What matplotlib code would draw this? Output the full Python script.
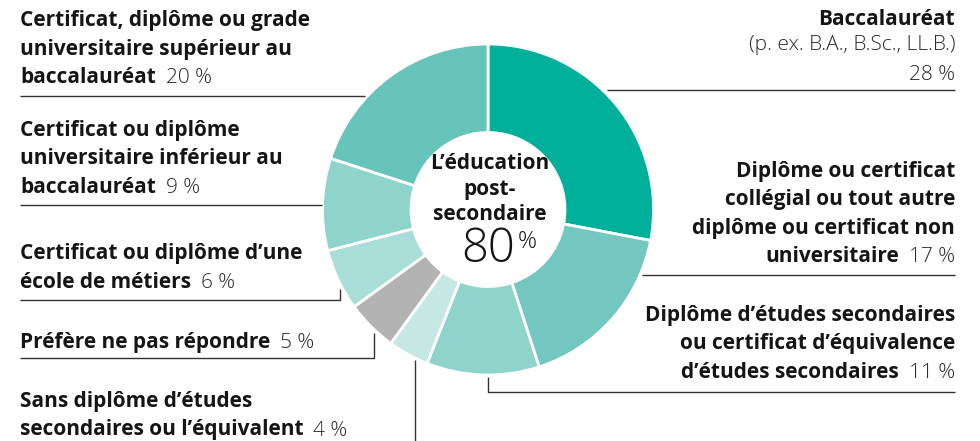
import matplotlib
matplotlib.use("Agg")
import matplotlib.pyplot as plt

plt.rcParams['font.family'] = ['Open Sans', 'DejaVu Sans']

# donnees (ordre horaire depuis le haut)
categories = ["Baccalauréat",
              "Diplôme ou certificat collégial",
              "Diplôme d'études secondaires",
              "Sans diplôme d'études secondaires",
              "Préfère ne pas répondre",
              "École de métiers",
              "Universitaire inférieur au baccalauréat",
              "Universitaire supérieur au baccalauréat"]
valeurs = [28, 17, 11, 4, 5, 6, 9, 20]
couleurs = ['#00b09b', '#74c7bf', '#8fd4cb', '#c5e8e3',
            '#b3b3b3', '#a9ddd7', '#8fd4cb', '#67c4b9']
total_post = 80

W, H = 980, 441
CX, CY, R, R_IN = 488, 209.5, 165.5, 77

def Y(y):
    return H - y

fig = plt.figure(figsize=(W / 100, H / 100), dpi=100)
ax = fig.add_axes([0, 0, 1, 1])

ax.pie(valeurs, colors=couleurs, startangle=90, counterclock=False,
       center=(CX, Y(CY)), radius=R, frame=True,
       wedgeprops=dict(width=R - R_IN, edgecolor='white', linewidth=2))
ax.set_xlim(0, W)
ax.set_ylim(0, H)
ax.set_aspect('equal')
ax.axis('off')

noir = '#151515'
gris = '#2a2a2a'
fs = 15
pas = 28.5

# blocs d'etiquettes : x, premiere ligne de base, alignement, lignes en gras, pourcentage
blocs = [
    (20, 26, 'left', ["Certificat, diplôme ou grade", "universitaire supérieur au", "baccalauréat"], valeurs[7]),
    (20, 136, 'left', ["Certificat ou diplôme", "universitaire inférieur au", "baccalauréat"], valeurs[6]),
    (20, 259.5, 'left', ["Certificat ou diplôme d\u2019une", "école de métiers"], valeurs[5]),
    (20, 348, 'left', ["Préfère ne pas répondre"], valeurs[4]),
    (20, 407, 'left', ["Sans diplôme d\u2019études", "secondaires ou l\u2019équivalent"], valeurs[3]),
    (955, 177, 'right', ["Diplôme ou certificat", "collégial ou tout autre",
                         "diplôme ou certificat non", "universitaire"], valeurs[1]),
    (955, 321, 'right', ["Diplôme d\u2019études secondaires", "ou certificat d\u2019équivalence",
                         "d\u2019études secondaires"], valeurs[2]),
]

for x, y0, ha, lignes, pct in blocs:
    for i, l in enumerate(lignes[:-1]):
        ax.text(x, Y(y0 + i * pas), l, ha=ha, va='baseline', fontsize=fs,
                fontweight='bold', color=noir)
    yl = Y(y0 + (len(lignes) - 1) * pas)
    if ha == 'left':
        t = ax.text(x, yl, lignes[-1], ha='left', va='baseline', fontsize=fs,
                    fontweight='bold', color=noir)
        ax.annotate(f"{pct} %", xy=(1, 0), xycoords=t, xytext=(7, 0),
                    textcoords='offset points', ha='left', va='bottom',
                    fontsize=fs, fontweight='light', color=gris)
    else:
        t = ax.text(x, yl, f"{pct} %", ha='right', va='baseline', fontsize=fs,
                    fontweight='light', color=gris)
        ax.annotate(lignes[-1], xy=(0, 0), xycoords=t, xytext=(-7, 0),
                    textcoords='offset points', ha='right', va='bottom',
                    fontsize=fs, fontweight='bold', color=noir)

# Baccalaureat
ax.text(955, Y(25), "Baccalauréat", ha='right', va='baseline', fontsize=fs,
        fontweight='bold', color=noir)
ax.text(955, Y(50), "(p. ex. B.A., B.Sc., LL.B.)", ha='right', va='baseline',
        fontsize=fs, fontweight='light', color=gris)
ax.text(955, Y(80), f"{valeurs[0]} %", ha='right', va='baseline',
        fontsize=fs, fontweight='light', color=gris)

# traits de rappel
traits = [
    [(607, 90), (955, 90)],
    [(642, 275), (955, 275)],
    [(488, 377), (488, 392), (955, 392)],
    [(20, 96), (365, 96)],
    [(20, 205), (322, 205)],
    [(20, 300), (340, 300), (340, 289)],
    [(20, 358), (374, 358), (374, 333)],
    [(415, 360), (415, 441)],
]
for tr in traits:
    xs = [p[0] for p in tr]
    ys = [Y(p[1]) for p in tr]
    ax.plot(xs, ys, color='#333333', lw=1.0, solid_capstyle='butt')

# centre
ax.text(490, Y(169), "L\u2019éducation", ha='center', va='baseline', fontsize=15,
        fontweight='bold', color=noir)
ax.text(490, Y(195), "post-", ha='center', va='baseline', fontsize=15,
        fontweight='bold', color=noir)
ax.text(490, Y(220), "secondaire", ha='center', va='baseline', fontsize=15,
        fontweight='bold', color=noir)
ax.text(515, Y(262), str(total_post), ha='right', va='baseline', fontsize=34,
        fontweight='light', color=noir)
ax.text(518, Y(248), "%", ha='left', va='baseline', fontsize=17,
        fontweight='light', color=noir)

fig.savefig("out.png", dpi=100)
